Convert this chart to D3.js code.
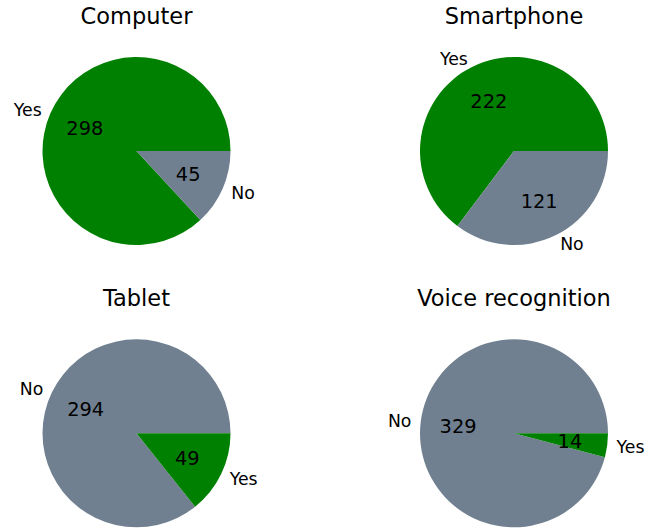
<!DOCTYPE html>
<html>
<head>
<meta charset="utf-8">
<script src="https://cdn.jsdelivr.net/npm/d3@7"></script>
<style>
  html, body { margin: 0; padding: 0; background: #ffffff; }
  svg { display: block; }
  text { font-family: "DejaVu Sans", sans-serif; fill: #000000; }
</style>
</head>
<body>
<svg id="chart" width="648" height="529"></svg>
<script>
// ---- data ----
const titles = ["Computer", "Smartphone", "Tablet", "Voice recognition"];
const computerLabels = ["Yes", "No"];
const computerValues = [298, 45];
const smartphoneLabels = ["Yes", "No"];
const smartphoneValues = [222, 121];
const tabletLabels = ["No", "Yes"];
const tabletValues = [294, 49];
const voiceLabels = ["No", "Yes"];
const voiceValues = [329, 14];
const answerKeys = ["Yes", "No"];
const answerColors = ["#008000", "#708090"];

const panels = [
  { title: titles[0], labels: computerLabels, values: computerValues },
  { title: titles[1], labels: smartphoneLabels, values: smartphoneValues },
  { title: titles[2], labels: tabletLabels, values: tabletValues },
  { title: titles[3], labels: voiceLabels, values: voiceValues }
];

// ---- layout ----
const svg = d3.select("#chart");
const color = d3.scaleOrdinal().domain(answerKeys).range(answerColors);
const colX = d3.scalePoint().domain([0, 1]).range([136.5, 514]);
const rowY = d3.scalePoint().domain([0, 1]).range([151, 433.3]);
const R = 94;

const pie = d3.pie()
  .value(d => d.value)
  .sort(null)
  .startAngle(Math.PI / 2)
  .endAngle(Math.PI / 2 - 2 * Math.PI);

const arc = d3.arc().innerRadius(0).outerRadius(R);
const labelArc = d3.arc().innerRadius(R * 1.1).outerRadius(R * 1.1);
const pctArc = d3.arc().innerRadius(R * 0.6).outerRadius(R * 0.6);

panels.forEach((p, i) => {
  const cx = colX(i % 2), cy = rowY(Math.floor(i / 2));
  const g = svg.append("g").attr("transform", `translate(${cx},${cy})`);
  const data = p.labels.map((l, j) => ({ label: l, value: p.values[j] }));
  const arcs = pie(data);

  g.selectAll("path.wedge").data(arcs).join("path")
    .attr("class", "wedge")
    .attr("d", arc)
    .attr("fill", d => color(d.data.label));

  g.selectAll("text.lbl").data(arcs).join("text")
    .attr("class", "lbl")
    .attr("x", d => labelArc.centroid(d)[0])
    .attr("y", d => labelArc.centroid(d)[1])
    .attr("dy", "0.38em")
    .attr("text-anchor", d => labelArc.centroid(d)[0] > 0 ? "start" : "end")
    .style("font-size", "17.3px")
    .text(d => d.data.label);

  g.selectAll("text.pct").data(arcs).join("text")
    .attr("class", "pct")
    .attr("x", d => pctArc.centroid(d)[0])
    .attr("y", d => pctArc.centroid(d)[1])
    .attr("dy", "0.36em")
    .attr("text-anchor", "middle")
    .style("font-size", "19.4px")
    .text(d => d.data.value);

  g.append("text")
    .attr("x", 0)
    .attr("y", (i < 2 ? 24 : 306.3) - cy)
    .attr("text-anchor", "middle")
    .style("font-size", "22.5px")
    .text(p.title);
});
</script>
</body>
</html>
